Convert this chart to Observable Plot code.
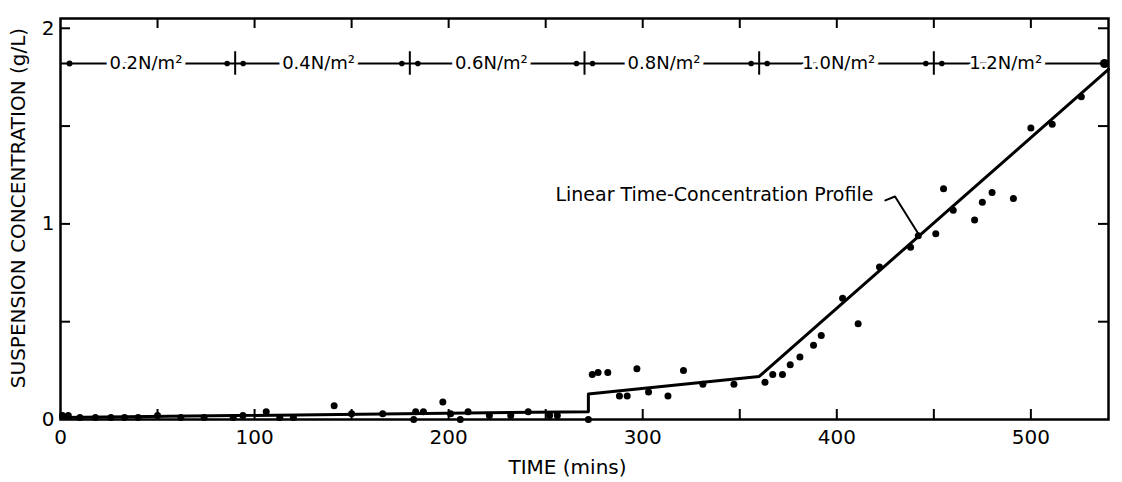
<!DOCTYPE html>
<html><head><meta charset="utf-8">
<script src="https://cdn.jsdelivr.net/npm/d3@7"></script>
<script src="https://cdn.jsdelivr.net/npm/@observablehq/plot@0.6"></script>
<style>
html,body{margin:0;padding:0;background:#fff;}
[aria-label="ylabel"] text{letter-spacing:0.8px}
[aria-label="xlabel"] text{letter-spacing:1.5px}
</style></head><body><div id="chart"></div>
<script>
// measured points: time (mins) and suspension concentration (g/L)
const time = [1,4,10,18,26,33,40,50,62,74,89,94,106,113,120,141,150,166,182,183,187,197,201,206,210,221,232,241,252,256,272,
  274,277,282,288,292,297,303,313,321,331,347,363,367,372,376,381,388,392,403,411,422,438,442,451,455,460,471,475,480,491,500,511,526];
const conc = [0.02,0.02,0.01,0.01,0.01,0.01,0.01,0.02,0.01,0.01,0.01,0.02,0.04,0.01,0.01,0.07,0.03,0.03,0.0,0.04,0.04,0.09,0.03,0.0,0.04,0.02,0.02,0.04,0.02,0.02,0.0,
  0.23,0.24,0.24,0.12,0.12,0.26,0.14,0.12,0.25,0.18,0.18,0.19,0.23,0.23,0.28,0.32,0.38,0.43,0.62,0.49,0.78,0.88,0.94,0.95,1.18,1.07,1.02,1.11,1.16,1.13,1.49,1.51,1.65];

// linear time-concentration profile
const profileTime = [0,272,272,360,540];
const profileConc = [0.01,0.04,0.13,0.22,1.79];

// bed shear stress steps
const stressLabels = ["0.2N/m²","0.4N/m²","0.6N/m²","0.8N/m²","1.0N/m²","1.2N/m²"];
const stressLabelTime = [44,133,222,311,401,487];
const stressBounds = [90,180,270,360,450];
const stressEnds = [0,540];
const stressLevel = 1.82;

// annotation
const annotationText = ["Linear Time-Concentration Profile"];
const annotationTime = 255, annotationConc = 1.15;
const leaderTime = [425,430,442];
const leaderConc = [1.12,1.14,0.95];

// axes
const xTickLabels = [0,100,200,300,400,500];
const yTickLabels = [0,1,2];
const xMinorTicks = [50,100,150,200,250,300,350,400,450,500];
const yMinorTicks = [0.5,1,1.5,2];
const xTitle = ["TIME (mins)"];
const yTitle = ["SUSPENSION CONCENTRATION (g/L)"];

const points = time.map((t,i)=>({t, c: conc[i]}));
const profile = profileTime.map((t,i)=>({t, c: profileConc[i]}));
const leader = leaderTime.map((t,i)=>({t, c: leaderConc[i]}));

const W=1122, H=482, mL=60, mR=14, mT=18, mB=63;
const frameH = H-mT-mB, frameW = W-mL-mR, tk = 10;

const chart = Plot.plot({
  width: W, height: H,
  marginLeft: mL, marginRight: mR, marginTop: mT, marginBottom: mB,
  x: {domain: [0,540]},
  y: {domain: [0,2.05]},
  style: {fontFamily: "DejaVu Sans", fontSize: "20px", color: "#000", background: "#fff"},
  marks: [
    // shear stress bar
    Plot.ruleY([stressLevel], {x1: 0, x2: 540, stroke: "black", strokeWidth: 2}),
    Plot.ruleX(stressBounds, {x: d=>d, y1: stressLevel-0.06, y2: stressLevel+0.06, stroke: "black", strokeWidth: 2}),
    Plot.dot(stressBounds, {x: d=>d, y: stressLevel, dx: -8, r: 2.8, fill: "black", stroke: "none"}),
    Plot.dot(stressBounds, {x: d=>d, y: stressLevel, dx: 8, r: 2.8, fill: "black", stroke: "none"}),
    Plot.dot([stressEnds[0]], {x: d=>d, y: stressLevel, dx: 9, r: 3, fill: "black", stroke: "none"}),
    Plot.dot([stressEnds[1]], {x: d=>d, y: stressLevel, dx: -4, r: 4.5, fill: "black", stroke: "none"}),
    Plot.text(stressLabels, {x: (d,i)=>stressLabelTime[i], y: stressLevel, fontSize: 18, fill: "black", stroke: "white", strokeWidth: 8, paintOrder: "stroke"}),
    // profile line and data
    Plot.line(profile, {x: "t", y: "c", stroke: "black", strokeWidth: 3, strokeLinejoin: "round"}),
    Plot.dot(points, {x: "t", y: "c", r: 3.5, fill: "black", stroke: "none"}),
    // annotation
    Plot.text(annotationText, {x: annotationTime, y: annotationConc, textAnchor: "start", fontSize: 19, fill: "black"}),
    Plot.line(leader, {x: "t", y: "c", stroke: "black", strokeWidth: 2}),
    // frame and inward ticks
    Plot.frame({stroke: "black", strokeWidth: 2.5}),
    Plot.tickX(xMinorTicks, {x: d=>d, insetBottom: frameH - tk, stroke: "black", strokeWidth: 2}),
    Plot.tickX(xMinorTicks, {x: d=>d, insetTop: frameH - tk, stroke: "black", strokeWidth: 2}),
    Plot.tickY(yMinorTicks, {y: d=>d, insetRight: frameW - tk, stroke: "black", strokeWidth: 2}),
    Plot.tickY(yMinorTicks, {y: d=>d, insetLeft: frameW - tk, stroke: "black", strokeWidth: 2}),
    Plot.axisX({ticks: xTickLabels, tickFormat: d=>String(d), tickSize: 0, tickPadding: 10, fontSize: 20, label: null}),
    Plot.axisY({ticks: yTickLabels, tickFormat: d=>String(d), tickSize: 0, tickPadding: 6, fontSize: 20, label: null}),
    Plot.text(xTitle, {frameAnchor: "bottom", textAnchor: "middle", lineAnchor: "middle", dy: 48, dx: -17, fontSize: 20, fill: "black", ariaLabel: "xlabel"}),
    Plot.text(yTitle, {frameAnchor: "left", textAnchor: "middle", lineAnchor: "middle", rotate: -90, dx: -42, dy: -11, fontSize: 20, fill: "black", ariaLabel: "ylabel"})
  ]
});
document.getElementById("chart").appendChild(chart);
</script>
</body></html>
